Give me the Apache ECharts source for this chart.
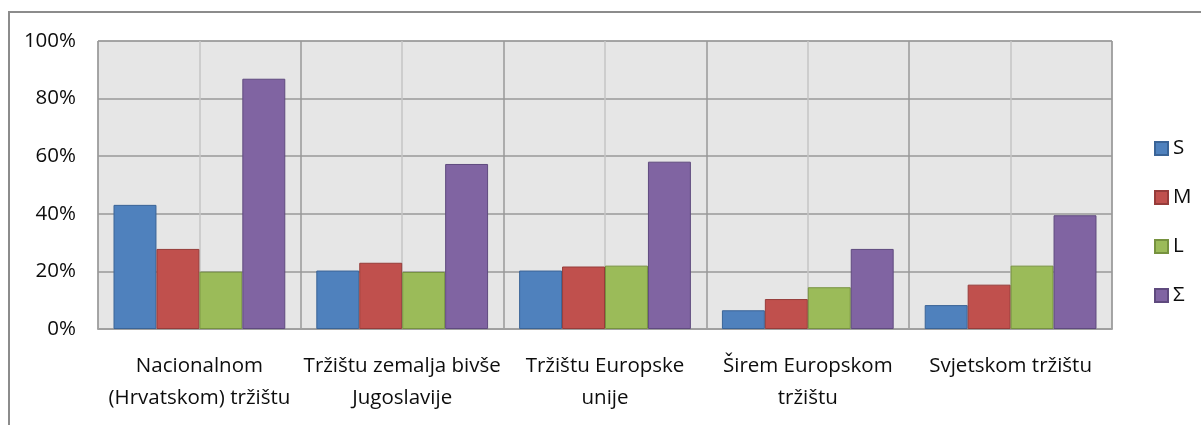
<!DOCTYPE html>
<html>
<head>
<meta charset="utf-8">
<style>
  html, body { margin: 0; padding: 0; background: #ffffff; }
  #chart { width: 1201px; height: 425px; }
</style>
<script src="https://cdn.jsdelivr.net/npm/echarts@6/dist/echarts.min.js"></script>
</head>
<body>
<div id="chart"></div>
<script>
// Market categories (x axis)
const categories = [
  'Nacionalnom\n(Hrvatskom) tržištu',
  'Tržištu zemalja bivše\nJugoslavije',
  'Tržištu Europske\nunije',
  'Širem Europskom\ntržištu',
  'Svjetskom tržištu'
];

// Share of companies per size class, in percent
const seriesNames = ['S', 'M', 'L', 'Σ'];
const valuesS = [43.1, 20.3, 20.3, 6.5, 8.3];
const valuesM = [27.8, 23.0, 21.7, 10.4, 15.4];
const valuesL = [19.9, 19.8, 22.0, 14.5, 22.0];
const valuesSum = [86.9, 57.3, 58.1, 27.8, 39.5];

const fills = ['#4f81bd', '#c0504d', '#9bbb59', '#8064a2'];
const edges = ['#3a6497', '#963c3a', '#76923f', '#5f4a7e'];

const FONT = '"Open Sans", "Noto Sans", sans-serif';
const TEXT = '#0d0d0d';
const FONT_SIZE = 20.5;

const chart = echarts.init(document.getElementById('chart'), null, { renderer: 'canvas' });

const allValues = [valuesS, valuesM, valuesL, valuesSum];

chart.setOption({
  animation: false,
  backgroundColor: '#ffffff',
  textStyle: { fontFamily: FONT },
  graphic: [
    // outer chart frame (left and top edges)
    {
      type: 'polyline',
      shape: { points: [[9, 425], [9, 12], [1201, 12]] },
      style: { stroke: '#8c8c8c', lineWidth: 2, fill: null },
      silent: true
    }
  ],
  grid: {
    left: 98,
    top: 41,
    width: 1014,
    height: 288,
    show: true,
    backgroundColor: '#e6e6e6',
    borderColor: '#a0a0a0',
    borderWidth: 1
  },
  legend: {
    orient: 'vertical',
    left: 1149,
    top: 133,
    itemWidth: 13,
    itemHeight: 13,
    itemGap: 28,
    icon: 'rect',
    data: seriesNames,
    textStyle: { fontFamily: FONT, fontSize: FONT_SIZE, color: TEXT }
  },
  xAxis: [
    {
      type: 'category',
      data: categories,
      axisTick: { show: false },
      axisLine: { show: true, lineStyle: { color: '#a0a0a0', width: 2 } },
      splitLine: { show: false },
      axisLabel: {
        fontFamily: FONT,
        fontSize: FONT_SIZE,
        color: TEXT,
        lineHeight: 32,
        margin: 21,
        interval: 0
      }
    },
    {
      // half-category grid lines: darker at category edges, lighter at centres
      type: 'value',
      position: 'top',
      min: 0,
      max: 10,
      interval: 1,
      show: true,
      axisLine: { show: false },
      axisTick: { show: false },
      axisLabel: { show: false },
      splitLine: {
        show: true,
        lineStyle: { color: ['#999999', '#c4c4c4'], width: 1.5 }
      }
    }
  ],
  yAxis: {
    type: 'value',
    min: 0,
    max: 100,
    interval: 20,
    axisLine: { show: false },
    axisTick: { show: false },
    axisLabel: {
      formatter: '{value}%',
      fontFamily: FONT,
      fontSize: FONT_SIZE,
      color: TEXT,
      margin: 22
    },
    splitLine: { show: true, lineStyle: { color: '#999999', width: 1.5 } }
  },
  series: seriesNames.map((name, i) => ({
    name: name,
    type: 'bar',
    xAxisIndex: 0,
    data: allValues[i],
    barGap: '0%',
    barCategoryGap: '15.3%',
    itemStyle: { color: fills[i], borderColor: edges[i], borderWidth: 1 }
  }))
});
</script>
</body>
</html>
